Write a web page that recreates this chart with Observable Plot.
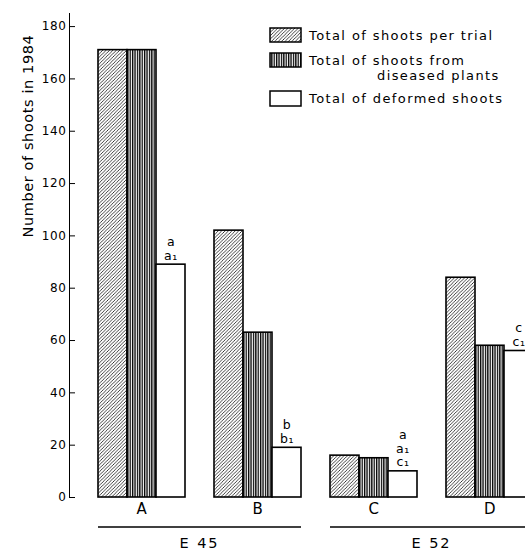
<!DOCTYPE html>
<html><head><meta charset="utf-8">
<script src="https://cdn.jsdelivr.net/npm/d3@7"></script>
<script src="https://cdn.jsdelivr.net/npm/@observablehq/plot@0.6"></script>
<style>
html,body{margin:0;padding:0;overflow:hidden;background:#fff;}
#chart{width:525px;height:552px;overflow:hidden;position:relative;}
</style></head><body><div id="chart"></div>
<script>
const groups = ["A", "B", "C", "D"];
const experiments = ["E 45", "E 45", "E 52", "E 52"];
const seriesNames = ["Total of shoots per trial", "Total of shoots from diseased plants", "Total of deformed shoots"];
const shootsPerTrial = [171, 102, 16, 84];
const shootsDiseased = [171, 63, 15, 58];
const shootsDeformed = [89, 19, 10, 56];
const deformedNotes = ["a\na₁", "b\nb₁", "a\na₁\nc₁", "c\nc₁"];
const yTicks = [0, 20, 40, 60, 80, 100, 120, 140, 160, 180];
const yLabel = "Number of shoots in 1984";
const legendLines = [["Total of shoots per trial"], ["Total of shoots from", "diseased plants"], ["Total of deformed shoots"]];

const seriesValues = [shootsPerTrial, shootsDiseased, shootsDeformed];
const rows = [];
groups.forEach((g, i) => seriesNames.forEach((s, j) => rows.push({
  group: g, experiment: experiments[i], series: s, value: seriesValues[j][i],
  note: j === 2 ? deformedNotes[i] : ""
})));

const FONT = "'DejaVu Sans', sans-serif";
const fills = ["url(#hatch)", "url(#stripes)", "white"];
const ML = 69;

const plot = Plot.plot({
  width: 560, height: 552,
  marginLeft: ML, marginRight: 27, marginTop: 13, marginBottom: 55,
  style: {fontFamily: FONT, fontSize: "12px", maxWidth: "none", background: "white", color: "black", overflow: "visible"},
  fx: {domain: groups, padding: 0, axis: null},
  x: {domain: seriesNames, paddingInner: 0, paddingOuter: 0.4773, align: 1, axis: null},
  y: {domain: [0, 185], ticks: yTicks, tickSize: -6, tickPadding: 9, line: true, label: null, tickFormat: d => String(d)},
  color: {domain: seriesNames, range: fills},
  marks: [
    Plot.barY(rows, {fx: "group", x: "series", y: "value", fill: "series", stroke: "black", strokeWidth: 1.6}),
    Plot.text(rows.filter(d => d.note), {fx: "group", x: "series", y: "value", text: "note", lineAnchor: "bottom", dy: -5, lineHeight: 1.1, fontSize: 12.5}),
    Plot.text(rows.filter(d => d.series === seriesNames[1]), {fx: "group", x: "series", frameAnchor: "bottom", text: "group", lineAnchor: "top", dy: 6, fontSize: 15}),
    Plot.text([{group: groups[0], label: yLabel}], {fx: "group", frameAnchor: "left", text: "label", rotate: -90, dx: -41, dy: -18, fontSize: 14.5})
  ]
});

const svg = d3.select(plot);
const defs = svg.insert("defs", ":first-child");
const h = 3.4;
const hatch = defs.append("pattern").attr("id", "hatch").attr("patternUnits", "userSpaceOnUse").attr("width", h).attr("height", h);
hatch.append("rect").attr("width", h).attr("height", h).attr("fill", "white");
hatch.append("path").attr("d", `M${-h/4},${h/4}L${h/4},${-h/4}M0,${h}L${h},0M${h*3/4},${h*5/4}L${h*5/4},${h*3/4}`).attr("stroke", "black").attr("stroke-width", 0.75);
const sw = 2.4;
const stripes = defs.append("pattern").attr("id", "stripes").attr("patternUnits", "userSpaceOnUse").attr("width", sw).attr("height", 10);
stripes.append("rect").attr("width", sw).attr("height", 10).attr("fill", "white");
stripes.append("rect").attr("x", 0).attr("width", 1.3).attr("height", 10).attr("fill", "black");

svg.selectAll("text").attr("letter-spacing", "0.6px");

// experiment brackets
const fx = plot.scale("fx"), xs = plot.scale("x");
[...new Set(experiments)].forEach(e => {
  const gs = groups.filter((g, i) => experiments[i] === e);
  const x1 = fx.apply(gs[0]) + xs.apply(seriesNames[0]) - ML;
  const x2 = fx.apply(gs[gs.length - 1]) + xs.apply(seriesNames[2]) + xs.bandwidth - ML;
  svg.append("line").attr("x1", x1).attr("x2", x2).attr("y1", 527).attr("y2", 527).attr("stroke", "black").attr("stroke-width", 1.5);
  svg.append("text").attr("x", (x1 + x2) / 2).attr("y", 548).attr("text-anchor", "middle")
    .attr("font-family", FONT).attr("font-size", 14.5).attr("letter-spacing", "2px").attr("fill", "black").text(e);
});

// legend
const lg = svg.append("g").attr("font-family", FONT).attr("font-size", 13).attr("letter-spacing", "1.4px")
  .attr("fill", "black").attr("text-anchor", "start");
const sy = [28, 53, 91];
seriesNames.forEach((s, i) => {
  lg.append("rect").attr("x", 270).attr("y", sy[i]).attr("width", 31).attr("height", i === 2 ? 15 : 14)
    .attr("fill", fills[i]).attr("stroke", "black").attr("stroke-width", 1.5);
  legendLines[i].forEach((t, k) => {
    lg.append("text").attr("x", k === 0 ? 309 : 377).attr("y", sy[i] + 12 + k * 15).text(t);
  });
});

document.getElementById("chart").appendChild(plot);
</script></body></html>
